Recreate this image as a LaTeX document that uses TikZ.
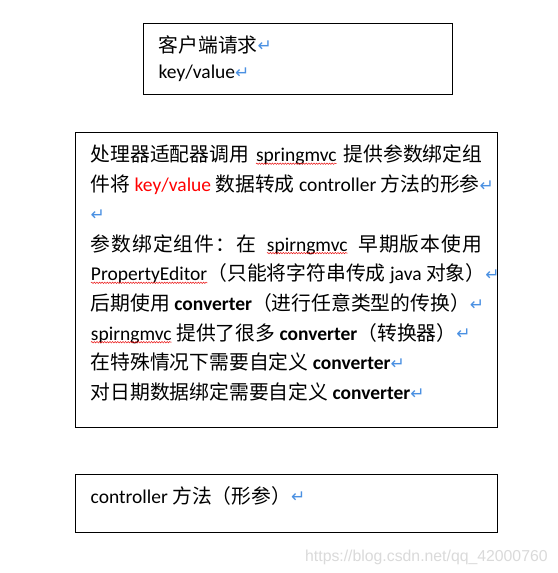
\documentclass[tikz,border=0pt]{standalone}
\usepackage{fontspec}
\setmainfont{Carlito}
\newfontfamily\cjk[Scale=1.015]{Noto Sans CJK SC}
\newfontfamily\arrowfont{DejaVu Sans}
\newfontfamily\wmfont{Liberation Sans}
\usetikzlibrary{decorations.pathmorphing}
\definecolor{retblue}{RGB}{74,144,226}
\definecolor{wmgray}{RGB}{218,218,218}
\definecolor{wordred}{RGB}{235,20,20}
\newcommand\zh[1]{{\cjk #1}}
\newcommand\ret{{\arrowfont\fontsize{17}{17}\selectfont\color{retblue}\raisebox{0.5pt}{↵}}}
\newcommand\gp{\hskip 0pt plus 1fil\relax}
\newcommand\wsp{\hskip 4.4pt plus 6fil\relax}
\newcommand\wav[1]{\tikz[baseline=(w.base)]{\node[inner sep=0pt,outer sep=0pt](w){#1};
  \draw[wordred,line width=0.5pt,decorate,decoration={snake,amplitude=0.7pt,segment length=2.6pt}]
   ([yshift=-2pt]w.base west) -- ([yshift=-2pt]w.base east);}}
\begin{document}
\begin{tikzpicture}[x=1pt,y=-1pt,
  box/.style={draw=black,line width=0.9pt},
  txt/.style={anchor=base west,inner sep=0pt,font=\fontsize{19.5}{20}\selectfont},
  wm/.style={anchor=base west,inner sep=0pt,font=\wmfont\fontsize{15.8}{16}\selectfont,text=wmgray}]
\useasboundingbox (0,0) rectangle (557,573);
\fill[white] (0,0) rectangle (557,573);
% box 1
\draw[box] (143.3,23.3) rectangle (452.7,94);
\node[txt] (b1l1) at (158.5,52) {\zh{客户端请求}\ret};
\node[txt] (b1l2) at (158.5,78.5) {key/value\ret};
% box 2
\draw[box] (75.7,132.3) rectangle (497.7,427.7);
\node[txt] (l1) at (90.5,161.7) {\makebox[391.5pt][s]{\zh{处理器适配器调用} \wav{springmvc} \zh{提供参数绑定组}}};
\node[txt] (l2) at (90.5,191.7) {\zh{件将} \textcolor{red}{key/value} \zh{数据转成} controller \zh{方法的形参}\ret};
\node[txt] (l3) at (90.5,221.4) {\ret};
\node[txt] (l4) at (90.5,251.1) {\hbox to 391.5pt{\zh{参\gp 数\gp 绑\gp 定\gp 组\gp 件\gp ：\gp 在}\wsp\wav{spirngmvc}\wsp\zh{早\gp 期\gp 版\gp 本\gp 使\gp 用}}};
\node[txt] (l5) at (90.5,280.8) {\wav{PropertyEditor}\zh{（只能将字符串传成} java \zh{对象）}\ret};
\node[txt] (l6) at (90.5,310.5) {\zh{后期使用} \textbf{converter}\zh{（进行任意类型的传换）}\ret};
\node[txt] (l7) at (90.5,340.2) {\wav{spirngmvc} \zh{提供了很多} \textbf{converter}\zh{（转换器）}\ret};
\node[txt] (l8) at (90.5,369.9) {\zh{在特殊情况下需要自定义} \textbf{converter}\ret};
\node[txt] (l9) at (90.5,399.6) {\zh{对日期数据绑定需要自定义} \textbf{converter}\ret};
% box 3
\draw[box] (75.3,474.3) rectangle (497.3,532.3);
\node[txt] (b3l1) at (90.5,503.3) {controller \zh{方法（形参）}\ret};
% watermark
\node[wm] (mark) at (305,561) {https://blog.csdn.net/qq\_42000760};
\end{tikzpicture}
\end{document}
